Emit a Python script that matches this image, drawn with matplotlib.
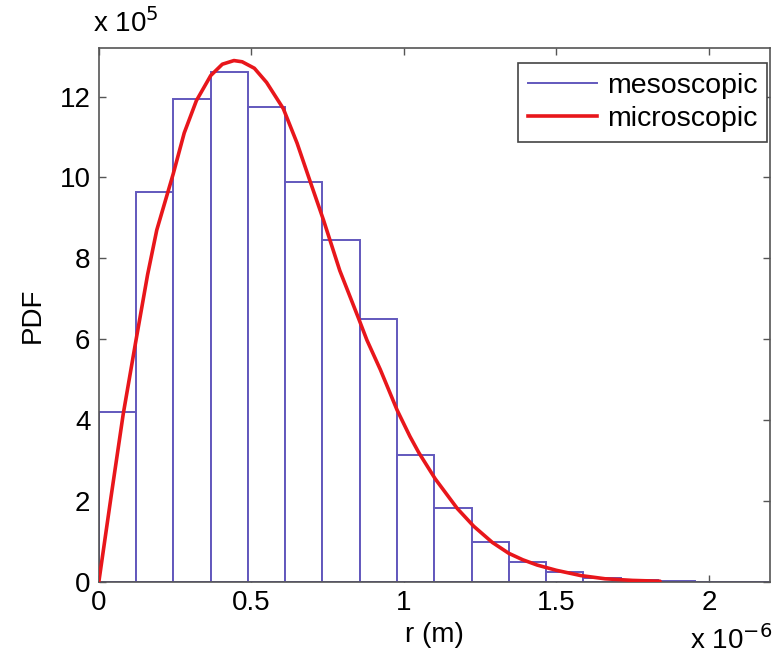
import numpy as np
import matplotlib
matplotlib.use("Agg")
import matplotlib.pyplot as plt
from matplotlib.lines import Line2D
from matplotlib.ticker import FuncFormatter, FixedLocator

plt.rcParams['font.family'] = ['Liberation Sans', 'DejaVu Sans']

# ---- data ----
bin_edges_um = np.linspace(0.0, 2.2, 19)          # r bin edges (x 1e-6 m)
meso_pdf_e5 = [4.2, 9.65, 11.95, 12.6, 11.75, 9.9, 8.45, 6.5, 3.15,
               1.82, 1.0, 0.5, 0.25, 0.1, 0.05, 0.02, 0.01, 0.01]   # x 1e5

micro_r_um = [0.0, 0.02, 0.04, 0.08, 0.122, 0.16, 0.19, 0.244, 0.28, 0.32,
              0.367, 0.405, 0.443, 0.47, 0.51, 0.55, 0.605, 0.65, 0.693, 0.737,
              0.79, 0.852, 0.879, 0.923, 0.978, 1.02, 1.049, 1.103, 1.175,
              1.229, 1.29, 1.344, 1.39, 1.437, 1.5, 1.58, 1.66, 1.75, 1.84]
micro_pdf_e5 = [0.0, 1.05, 2.1, 4.15, 5.98, 7.6, 8.7, 10.09, 11.1, 11.9,
                12.52, 12.8, 12.89, 12.86, 12.7, 12.35, 11.7, 10.85, 9.9, 8.94,
                7.7, 6.51, 5.98, 5.25, 4.25, 3.6, 3.2, 2.55, 1.82,
                1.38, 0.98, 0.71, 0.55, 0.42, 0.29, 0.16, 0.08, 0.04, 0.02]

x_ticks_um = [0, 0.5, 1, 1.5, 2]
y_ticks_e5 = [0, 2, 4, 6, 8, 10, 12]

XS = 1e-6
YS = 1e5

fig = plt.figure(figsize=(7.78, 6.67), dpi=100)
ax = fig.add_axes([0.127, 0.1274, 0.8625, 0.8006])

edges = np.array(bin_edges_um) * XS
heights = np.array(meso_pdf_e5) * YS
blue = '#6258bd'
red = '#e8161b'
ax.bar(edges[:-1], heights, width=np.diff(edges), align='edge',
       facecolor='white', edgecolor=blue, linewidth=1.4, zorder=2)
ax.plot(np.array(micro_r_um) * XS, np.array(micro_pdf_e5) * YS,
        color=red, linewidth=2.6, zorder=3, solid_capstyle='round',
        solid_joinstyle='round')

ax.set_xlim(0, 2.2 * XS)
ax.set_ylim(0, 13.2 * YS)
ax.xaxis.set_major_locator(FixedLocator([v * XS for v in x_ticks_um]))
ax.yaxis.set_major_locator(FixedLocator([v * YS for v in y_ticks_e5]))
ax.xaxis.set_major_formatter(FuncFormatter(lambda v, p: ('%g' % round(v / XS, 3))))
ax.yaxis.set_major_formatter(FuncFormatter(lambda v, p: ('%g' % round(v / YS, 3))))

axcol = '#555555'
for s in ax.spines.values():
    s.set_color(axcol)
    s.set_linewidth(1.2)
ax.tick_params(direction='in', top=True, right=True, length=5, width=1.0,
               color=axcol, labelsize=20, pad=6, labelcolor='black')

ax.set_xlabel('r (m)', fontsize=20, labelpad=4)
ax.set_ylabel('PDF', fontsize=20, labelpad=10)

fig.text(0.120, 0.943, r'x 10$^{5}$', fontsize=20, ha='left', va='bottom')
fig.text(0.993, 0.018, r'x 10$^{-6}$', fontsize=20, ha='right', va='bottom')

handles = [Line2D([], [], color=blue, linewidth=1.4),
           Line2D([], [], color=red, linewidth=2.6)]
leg = ax.legend(handles, ['mesoscopic', 'microscopic'], loc='upper right',
                bbox_to_anchor=(0.996, 0.972),
                fontsize=20.5, fancybox=False, framealpha=1, edgecolor='#444444',
                borderaxespad=0.0, handlelength=2.4, handletextpad=0.35,
                borderpad=0.35, labelspacing=0.25)
leg.get_frame().set_linewidth(1.2)

fig.savefig('out.png', dpi=100)
